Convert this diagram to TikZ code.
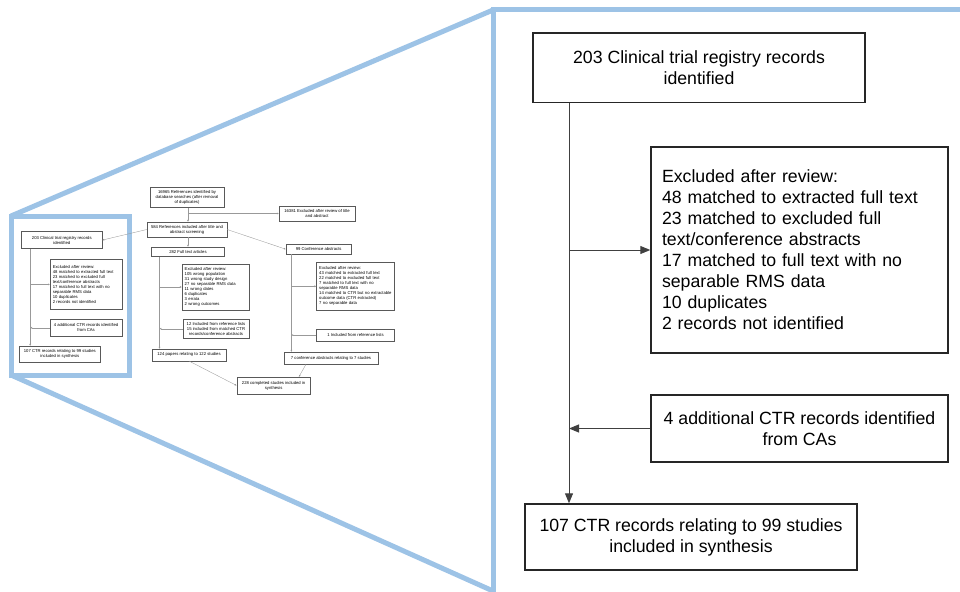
\documentclass[tikz,border=0pt]{standalone}
\usepackage{fontspec}
\setmainfont{Liberation Sans}
\usetikzlibrary{arrows.meta}
\definecolor{zoomblue}{RGB}{157,195,230}
\begin{document}
\begin{tikzpicture}[x=1pt,y=-1pt,
  bigbox/.style={draw=black!85, line width=1.4pt, inner sep=0pt, font=\fontsize{17.7}{21}\selectfont, align=center},
  smallbox/.style={draw=black!65, line width=0.45pt, inner sep=0pt, font=\fontsize{4.2}{5}\selectfont, align=center},
  bigline/.style={draw=black!75, line width=1pt},
  bigarrow/.style={bigline, -{Triangle[length=10pt,width=8pt]}},
  smallline/.style={draw=black!40, line width=0.35pt},
  smallarrow/.style={smallline, -{Triangle[length=1.8pt,width=1.6pt]}},
  zoomline/.style={draw=zoomblue, line width=5pt}
]
\useasboundingbox (0,0) rectangle (960,591);

% ---------- zoom frame ----------
\begin{scope}
\clip (0,0) rectangle (960,591);
\draw[zoomline] (11,216) -- (493,10);
\draw[zoomline] (11,375) -- (493,591);
\draw[zoomline, line join=miter] (11,216) rectangle (129,375);
\draw[zoomline, line join=miter] (1000,10) -- (493,10) -- (493,620);
\end{scope}

% ---------- miniature flowchart ----------
\node[smallbox, minimum width=74pt, minimum height=20pt] (s16965) at (187,197.5)
  {16965 References identified by\\database searches (after removal\\of duplicates)};
\node[smallbox, minimum width=76pt, minimum height=15pt] (s16381) at (317,213.5)
  {16381 Excluded after review of title\\and abstract};
\node[smallbox, minimum width=80pt, minimum height=15pt] (s584) at (187,229.5)
  {584 References included after title and\\abstract screening};
\node[smallbox, minimum width=80.6pt, minimum height=16.9pt] (s203) at (61.8,240.1)
  {203 Clinical trial registry records\\identified};
\node[smallbox, minimum width=73pt, minimum height=9.6pt] (s282) at (188,251.8)
  {282 Full text articles};
\node[smallbox, minimum width=65.5pt, minimum height=9.5pt] (s99) at (318.7,249.2)
  {99 Conference abstracts};
\node[smallbox, inner xsep=2.7pt, text width=66.7pt, minimum height=50pt, align=left] (sexcl) at (86.1,284.4)
  {Excluded after review:\\48 matched to extracted full text\\23 matched to excluded full\\text/conference abstracts\\17 matched to full text with no\\separable RMS data\\10 duplicates\\2 records not identified};
\node[smallbox, inner xsep=2.7pt, text width=61.6pt, minimum height=46pt, align=left] (sexft) at (215.5,287)
  {Excluded after review:\\105 wrong population\\31 wrong study design\\27 no separable RMS data\\11 wrong dates\\6 duplicates\\3 errata\\2 wrong outcomes};
\node[smallbox, inner xsep=2.7pt, text width=72.6pt, minimum height=48.6pt, align=left] (sexcf) at (355.5,286.3)
  {Excluded after review:\\43 matched to extracted full text\\22 matched to excluded full text\\7 matched to full text with no\\separable RMS data\\14 matched to CTR but no extractable\\outcome data (CTR extracted)\\7 no separable data};
\node[smallbox, minimum width=72.1pt, minimum height=16.3pt] (sadd) at (86.1,327.7)
  {4 additional CTR records identified\\from CAs};
\node[smallbox, minimum width=66pt, minimum height=19.5pt] (s12) at (216,328.7)
  {12 Included from reference lists\\15 included from matched CTR\\records/conference abstracts};
\node[smallbox, minimum width=78pt, minimum height=11.4pt] (s1) at (355.5,335.1)
  {1 Included from reference lists};
\node[smallbox, minimum width=80.6pt, minimum height=16pt] (ssyn) at (59.8,354)
  {107 CTR records relating to 99 studies\\included in synthesis};
\node[smallbox, minimum width=73.8pt, minimum height=11.8pt] (s124) at (189,354.9)
  {124 papers relating to 122 studies};
\node[smallbox, minimum width=94pt, minimum height=12pt] (s7) at (331,358)
  {7 conference abstracts relating to 7 studies};
\node[smallbox, minimum width=73.6pt, minimum height=17pt] (s228) at (273.6,385.5)
  {228 completed studies included in\\synthesis};

\coordinate (tv) at (188,213.5);
\coordinate (cv1) at (30.2,284.4);
\coordinate (cv2) at (30.2,327.7);
\coordinate (fv1) at (159.5,287);
\coordinate (fv2) at (159.5,328.7);
\coordinate (kv1) at (291.4,286.3);
\coordinate (kv2) at (291.4,335.1);

\draw[smallarrow] (s16965.south -| tv) -- (s584.north -| tv);
\draw[smallarrow] (tv) -- (s16381.west |- tv);
\draw[smallarrow] (s584.south -| tv) -- (s282.north -| tv);
\draw[smallarrow] (s584.west) -- (s203.east);
\draw[smallarrow] (s584.east) -- (s99.west);

\draw[smallarrow] (s203.south -| cv1) -- (ssyn.north -| cv1);
\draw[smallarrow] (cv1) -- (sexcl.west |- cv1);
\draw[smallarrow] (sadd.west |- cv2) -- (cv2);

\draw[smallarrow] (s282.south -| fv1) -- (s124.north -| fv1);
\draw[smallarrow] (fv1) -- (sexft.west |- fv1);
\draw[smallarrow] (s12.west |- fv2) -- (fv2);

\draw[smallarrow] (s99.south -| kv1) -- (s7.north -| kv1);
\draw[smallarrow] (kv1) -- (sexcf.west |- kv1);
\draw[smallarrow] (s1.west |- kv2) -- (kv2);

\draw[smallarrow] (s124.south) -- (s228.west);
\draw[smallarrow] (s7.194) -- (s228.19.6);

% ---------- enlarged flowchart ----------
\node[bigbox, minimum width=332pt, minimum height=69.5pt] (bctr) at (699,67.75)
  {203 Clinical trial registry records\\identified};
\node[bigbox, inner xsep=11pt, text width=275pt, minimum height=206pt, align=left] (bexcl) at (799.5,250)
  {Excluded after review:\\48 matched to extracted full text\\23 matched to excluded full\\text/conference abstracts\\17 matched to full text with no\\separable RMS data\\10 duplicates\\2 records not identified};
\node[bigbox, minimum width=297pt, minimum height=67pt] (badd) at (799.5,428.5)
  {4 additional CTR records identified\\from CAs};
\node[bigbox, minimum width=332pt, minimum height=66pt] (bsyn) at (691,537)
  {107 CTR records relating to 99 studies\\included in synthesis};

\coordinate (bv1) at (569,250);
\coordinate (bv2) at (569,428.5);
\draw[bigarrow] (bctr.south -| bv1) -- (bsyn.north -| bv1);
\draw[bigarrow] (bv1) -- (bexcl.west |- bv1);
\draw[bigarrow] (badd.west |- bv2) -- (bv2);
\end{tikzpicture}
\end{document}
